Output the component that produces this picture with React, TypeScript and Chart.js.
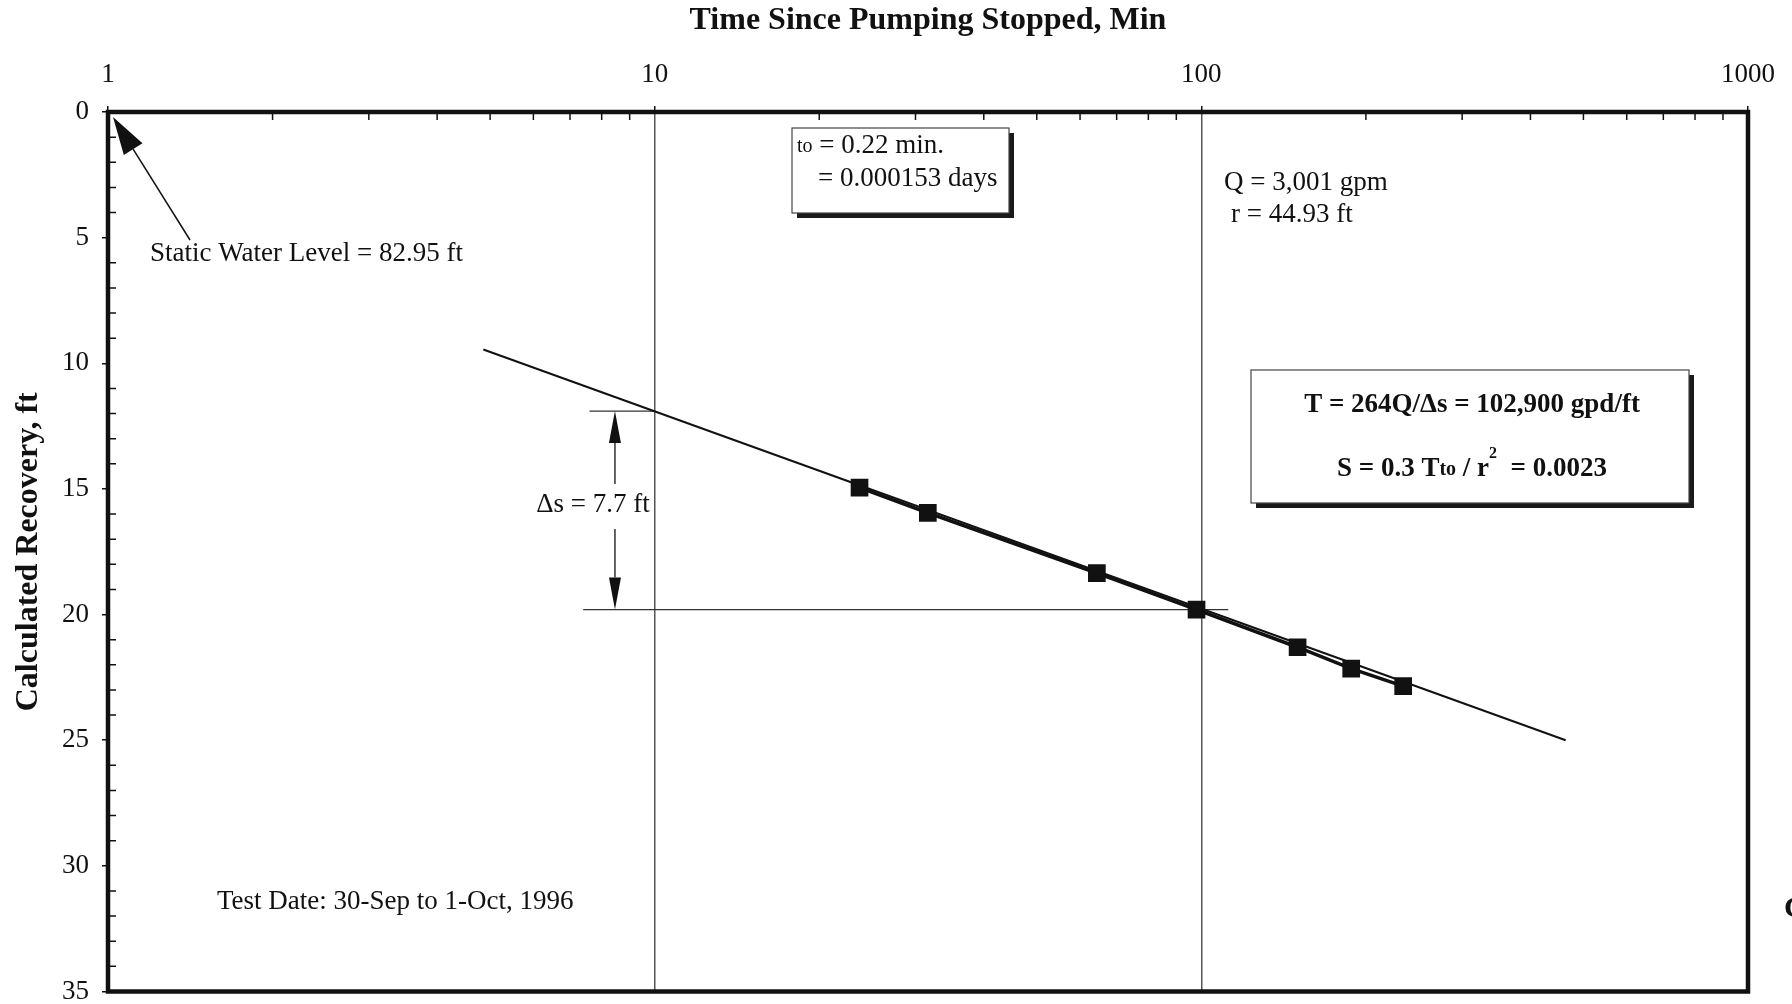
import { useEffect, useRef } from 'react';
import { Chart, registerables } from 'chart.js';

Chart.register(...registerables);

// ---- Data ----
const timeMin = [23.7, 31.6, 64.4, 98, 150, 188, 234];
const recoveryFt = [14.95, 15.95, 18.35, 19.8, 21.3, 22.15, 22.85];

const fitTime = [4.86, 464];
const fitRecovery = [9.45, 25.0];

const dsUpperTime = [7.6, 10];
const dsUpperRec = [11.9, 11.9];
const dsLowerTime = [7.4, 112];
const dsLowerRec = [19.8, 19.8];
const dsArrowTime = 8.46;
const dsLabelRec = 15.6;

const xTickValues = [1, 10, 100, 1000];
const yTickValues = [0, 5, 10, 15, 20, 25, 30, 35];

const SERIF = '"Liberation Serif", "Times New Roman", serif';

function drawArrow(
  ctx: CanvasRenderingContext2D,
  x1: number, y1: number, x2: number, y2: number,
  headLen: number, headHalf: number, lw: number, drawShaft = true
) {
  const ang = Math.atan2(y2 - y1, x2 - x1);
  const bx = x2 - headLen * Math.cos(ang);
  const by = y2 - headLen * Math.sin(ang);
  ctx.save();
  ctx.strokeStyle = '#111';
  ctx.fillStyle = '#111';
  ctx.lineWidth = lw;
  if (drawShaft) {
    ctx.beginPath();
    ctx.moveTo(x1, y1);
    ctx.lineTo(bx, by);
    ctx.stroke();
  }
  ctx.beginPath();
  ctx.moveTo(x2, y2);
  ctx.lineTo(bx + headHalf * Math.sin(ang), by - headHalf * Math.cos(ang));
  ctx.lineTo(bx - headHalf * Math.sin(ang), by + headHalf * Math.cos(ang));
  ctx.closePath();
  ctx.fill();
  ctx.restore();
}

type Run = { text: string; font: string; dy?: number };

function drawRuns(ctx: CanvasRenderingContext2D, runs: Run[], x: number, y: number, align: 'left' | 'center') {
  ctx.save();
  ctx.textBaseline = 'middle';
  ctx.textAlign = 'left';
  ctx.fillStyle = '#111';
  let total = 0;
  const widths = runs.map((r) => {
    ctx.font = r.font;
    const w = ctx.measureText(r.text).width;
    total += w;
    return w;
  });
  let cx = align === 'center' ? x - total / 2 : x;
  runs.forEach((r, i) => {
    ctx.font = r.font;
    ctx.fillText(r.text, cx, y + (r.dy || 0));
    cx += widths[i];
  });
  ctx.restore();
}

function shadowBox(ctx: CanvasRenderingContext2D, x: number, y: number, w: number, h: number) {
  ctx.save();
  ctx.fillStyle = '#1a1a1a';
  ctx.fillRect(x + 5, y + 5, w, h);
  ctx.fillStyle = '#fff';
  ctx.fillRect(x, y, w, h);
  ctx.strokeStyle = '#444';
  ctx.lineWidth = 1.2;
  ctx.strokeRect(x, y, w, h);
  ctx.restore();
}

const annotPlugin = {
  id: 'annot',
  beforeDraw(chart: any) {
    const ctx = chart.ctx;
    ctx.save();
    ctx.fillStyle = '#fff';
    ctx.fillRect(0, 0, chart.width, chart.height);
    ctx.restore();
  },
  afterDraw(chart: any) {
    const ctx: CanvasRenderingContext2D = chart.ctx;
    const xs = chart.scales.x;
    const ys = chart.scales.y;
    const { left, top, right, bottom } = chart.chartArea;

    // frame
    ctx.save();
    ctx.strokeStyle = '#111';
    ctx.lineWidth = 4.5;
    ctx.strokeRect(left, top, right - left, bottom - top);

    // minor ticks (inward)
    ctx.lineWidth = 1.5;
    ctx.beginPath();
    for (const d of [1, 10, 100]) {
      for (let k = 2; k <= 9; k++) {
        const px = xs.getPixelForValue(d * k);
        ctx.moveTo(px, top);
        ctx.lineTo(px, top + 8);
      }
    }
    for (let v = 1; v < 35; v++) {
      if (v % 5 === 0) continue;
      const py = ys.getPixelForValue(v);
      ctx.moveTo(left, py);
      ctx.lineTo(left + 8, py);
    }
    ctx.stroke();
    ctx.restore();

    const reg = `27px ${SERIF}`;
    const small = `20px ${SERIF}`;
    const bold = `bold 27px ${SERIF}`;
    const boldSmall = `bold 20px ${SERIF}`;

    // Static water level arrow + label
    const tipX = xs.getPixelForValue(1) + 5;
    const tipY = ys.getPixelForValue(0) + 5;
    drawArrow(ctx, 190, 240, tipX, tipY, 38, 11, 1.5);
    drawRuns(ctx, [{ text: 'Static Water Level = 82.95 ft', font: reg }], 150, 254, 'left');

    // Δs arrow
    const ax = xs.getPixelForValue(dsArrowTime);
    const yTop = ys.getPixelForValue(dsUpperRec[0]);
    const yBot = ys.getPixelForValue(dsLowerRec[0]);
    const yLab = ys.getPixelForValue(dsLabelRec);
    drawArrow(ctx, ax, yLab - 20, ax, yTop, 32, 6, 1.3);
    drawArrow(ctx, ax, yLab + 25, ax, yBot, 32, 6, 1.3);
    drawRuns(ctx, [{ text: '\u0394s = 7.7 ft', font: reg }], ax - 22, yLab + 1, 'center');

    // t0 box
    shadowBox(ctx, 792, 128, 217, 85);
    drawRuns(ctx, [
      { text: 'to', font: small, dy: 1 },
      { text: ' = 0.22 min.', font: reg },
    ], 797, 146, 'left');
    drawRuns(ctx, [{ text: '= 0.000153 days', font: reg }], 818, 179, 'left');

    // Q, r
    drawRuns(ctx, [{ text: 'Q = 3,001 gpm', font: reg }], 1224, 183, 'left');
    drawRuns(ctx, [{ text: 'r = 44.93 ft', font: reg }], 1231, 215, 'left');

    // T & S box
    shadowBox(ctx, 1251, 370, 438, 133);
    drawRuns(ctx, [{ text: 'T = 264Q/\u0394s = 102,900 gpd/ft', font: bold }], 1472, 405, 'center');
    drawRuns(ctx, [
      { text: 'S = 0.3 T', font: bold },
      { text: 'to', font: boldSmall, dy: 1 },
      { text: ' / r', font: bold },
      { text: '2', font: `bold 16px ${SERIF}`, dy: -15 },
      { text: '  = 0.0023', font: bold },
    ], 1472, 469, 'center');

    // Test date
    drawRuns(ctx, [{ text: 'Test Date: 30-Sep to 1-Oct, 1996', font: reg }], 217, 902, 'left');

    // cut-off glyph at right edge
    drawRuns(ctx, [{ text: 'C', font: `bold 30px ${SERIF}` }], 1784, 909, 'left');
  },
};

export default function App() {
  const ref = useRef<HTMLCanvasElement>(null);

  useEffect(() => {
    if (!ref.current) return;
    const chart = new Chart(ref.current, {
      type: 'scatter',
      data: {
        datasets: [
          {
            label: 'Calculated Recovery',
            data: timeMin.map((t, i) => ({ x: t, y: recoveryFt[i] })),
            showLine: true,
            borderColor: '#111',
            borderWidth: 3.5,
            backgroundColor: '#111',
            pointStyle: 'rect',
            pointRadius: 12.5,
            pointBorderWidth: 0,
          },
          {
            label: 'Fit',
            data: fitTime.map((t, i) => ({ x: t, y: fitRecovery[i] })),
            showLine: true,
            borderColor: '#111',
            borderWidth: 2,
            pointRadius: 0,
          },
          {
            label: 'ds upper',
            data: dsUpperTime.map((t, i) => ({ x: t, y: dsUpperRec[i] })),
            showLine: true,
            borderColor: '#333',
            borderWidth: 1.2,
            pointRadius: 0,
          },
          {
            label: 'ds lower',
            data: dsLowerTime.map((t, i) => ({ x: t, y: dsLowerRec[i] })),
            showLine: true,
            borderColor: '#333',
            borderWidth: 1.3,
            pointRadius: 0,
          },
        ] as any,
      },
      options: {
        responsive: false,
        animation: false,
        devicePixelRatio: 1,
        layout: { padding: { left: 0, top: 0, right: 44, bottom: 11 } },
        plugins: {
          legend: { display: false },
          tooltip: { enabled: false },
        },
        scales: {
          x: {
            type: 'logarithmic',
            position: 'top',
            min: 1,
            max: 1000,
            afterBuildTicks: (s: any) => {
              s.ticks = xTickValues.map((v) => ({ value: v, major: true }));
            },
            afterFit: (s: any) => {
              s.height = 112;
              s.paddingLeft = 0;
              s.paddingRight = 0;
            },
            ticks: {
              callback: (v: any) => String(v),
              font: { family: SERIF, size: 27 },
              color: '#111',
              padding: 15,
              maxRotation: 0,
              autoSkip: false,
            },
            grid: {
              color: (c: any) =>
                c.tick && (c.tick.value === 10 || c.tick.value === 100) ? '#555' : 'rgba(0,0,0,0)',
              lineWidth: 1.5,
              tickColor: '#111',
              tickLength: 6,
            },
            border: { display: false },
            title: {
              display: true,
              text: 'Time Since Pumping Stopped, Min',
              font: { family: SERIF, size: 32, weight: 'bold' },
              color: '#111',
              padding: { top: 2, bottom: 0 },
            },
          },
          y: {
            type: 'linear',
            reverse: true,
            min: 0,
            max: 35,
            afterBuildTicks: (s: any) => {
              s.ticks = yTickValues.map((v) => ({ value: v }));
            },
            afterFit: (s: any) => {
              s.width = 108;
              s.paddingTop = 0;
              s.paddingBottom = 0;
            },
            ticks: {
              font: { family: SERIF, size: 27 },
              color: '#111',
              padding: 13,
            },
            grid: {
              color: 'rgba(0,0,0,0)',
              tickColor: '#111',
              tickLength: 6,
              lineWidth: 1.5,
            },
            border: { display: false },
            title: {
              display: true,
              text: 'Calculated Recovery, ft',
              font: { family: SERIF, size: 32, weight: 'bold' },
              color: '#111',
              padding: { top: 10, bottom: 0 },
            },
          },
        },
      } as any,
      plugins: [annotPlugin],
    });
    return () => chart.destroy();
  }, []);

  return (
    <div style={{ position: 'fixed', left: 0, top: 0, width: 1792, height: 1004, background: '#fff' }}>
      <canvas ref={ref} width={1792} height={1004} style={{ display: 'block', width: 1792, height: 1004 }} />
    </div>
  );
}
